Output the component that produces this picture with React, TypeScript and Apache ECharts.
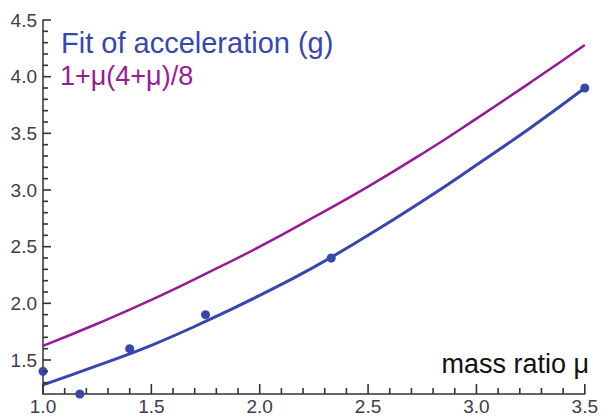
import React, { useEffect, useRef } from "react";
import * as echarts from "echarts";

const muGrid = [1.0, 1.25, 1.5, 1.75, 2.0, 2.25, 2.5, 2.75, 3.0, 3.25, 3.5];
const fitValues = [1.28, 1.45, 1.63, 1.84, 2.07, 2.32, 2.6, 2.9, 3.22, 3.55, 3.9];
const theoryValues = [1.625, 1.82, 2.03, 2.26, 2.5, 2.76, 3.03, 3.32, 3.63, 3.95, 4.28];
const measuredMu = [1.0, 1.17, 1.4, 1.75, 2.33, 3.5];
const measuredG = [1.4, 1.2, 1.6, 1.9, 2.4, 3.9];

const X_MIN = 1;
const X_MAX = 3.5;
const Y_MIN = 1.2;
const Y_MAX = 4.5;

// tick positions: every 0.1, major every 0.5
const xTickValues: number[] = [];
for (let i = 10; i <= 35; i++) xTickValues.push(i / 10);
const yTickValues: number[] = [];
for (let i = 13; i <= 45; i++) yTickValues.push(i / 10);
const isMajor = (v: number) => Math.abs(v * 2 - Math.round(v * 2)) < 1e-6;

const titleFit = "Fit of acceleration (g)";
const titleTheory = "1+μ(4+μ)/8";
const xName = "mass ratio μ";

const BLUE = "#3747b0";
const PURPLE = "#991a99";
const AXIS = "#333333";
const LABEL = "#3c3c4c";
const FONT = "'Liberation Sans', Arial, sans-serif";

const tickSeries = (data: number[][], size: number[], offset: number[]) => ({
  type: "scatter",
  data,
  symbol: "rect",
  symbolSize: size,
  symbolOffset: offset,
  clip: false,
  silent: true,
  itemStyle: { color: AXIS, opacity: 1 },
  z: 6,
});

export default function App() {
  const ref = useRef<HTMLDivElement>(null);
  useEffect(() => {
    if (!ref.current) return;
    const chart = echarts.init(ref.current, undefined, { renderer: "svg" });
    const fit = muGrid.map((m, i) => [m, fitValues[i]]);
    const theory = muGrid.map((m, i) => [m, theoryValues[i]]);
    const pts = measuredMu.map((m, i) => [m, measuredG[i]]);
    const xMajor = xTickValues.filter(isMajor).map((v) => [v, Y_MIN]);
    const xMinor = xTickValues.filter((v) => !isMajor(v)).map((v) => [v, Y_MIN]);
    const yMajor = yTickValues.filter(isMajor).map((v) => [X_MIN, v]);
    const yMinor = yTickValues.filter((v) => !isMajor(v)).map((v) => [X_MIN, v]);
    chart.setOption({
      animation: false,
      backgroundColor: "#ffffff",
      grid: { left: 43, right: 13, top: 20, bottom: 20 },
      xAxis: {
        type: "value",
        min: X_MIN,
        max: X_MAX,
        interval: 0.5,
        axisLine: { show: true, lineStyle: { color: AXIS, width: 1.5 } },
        axisTick: { show: false },
        splitLine: { show: false },
        axisLabel: {
          fontSize: 19,
          color: LABEL,
          fontFamily: FONT,
          margin: 3,
          formatter: (v: number) => v.toFixed(1),
        },
      },
      yAxis: {
        type: "value",
        min: Y_MIN,
        max: Y_MAX,
        interval: 0.1,
        axisLine: { show: true, lineStyle: { color: AXIS, width: 1.5 } },
        axisTick: { show: false },
        splitLine: { show: false },
        axisLabel: {
          interval: 0,
          fontSize: 19,
          color: LABEL,
          fontFamily: FONT,
          margin: 6,
          formatter: (v: number) => (isMajor(v) ? v.toFixed(1) : ""),
        },
      },
      series: [
        {
          type: "line",
          data: theory,
          smooth: true,
          showSymbol: false,
          lineStyle: { color: PURPLE, width: 2.5 },
          z: 2,
        },
        {
          type: "line",
          data: fit,
          smooth: true,
          showSymbol: false,
          lineStyle: { color: BLUE, width: 3 },
          z: 3,
        },
        {
          type: "scatter",
          data: pts,
          symbolSize: 9,
          clip: false,
          itemStyle: { color: BLUE, opacity: 1 },
          z: 4,
        },
        tickSeries(xMajor, [1.6, 10], [0, -5]),
        tickSeries(xMinor, [1.6, 6], [0, -3]),
        tickSeries(yMajor, [8, 1.6], [4, 0]),
        tickSeries(yMinor, [5, 1.6], [2.5, 0]),
      ],
      graphic: [
        {
          type: "text",
          x: 61,
          y: 43,
          style: {
            text: titleFit,
            fill: BLUE,
            font: `29px ${FONT}`,
            verticalAlign: "middle",
            align: "left",
          },
        },
        {
          type: "text",
          x: 60,
          y: 76,
          style: {
            text: titleTheory,
            fill: PURPLE,
            font: `27px ${FONT}`,
            verticalAlign: "middle",
            align: "left",
          },
        },
        {
          type: "text",
          x: 589,
          y: 364,
          style: {
            text: xName,
            fill: "#111111",
            font: `27px ${FONT}`,
            verticalAlign: "middle",
            align: "right",
          },
        },
      ],
    });
    return () => chart.dispose();
  }, []);
  return (
    <div
      ref={ref}
      style={{ position: "fixed", left: 0, top: 0, width: 601, height: 416 }}
    />
  );
}
